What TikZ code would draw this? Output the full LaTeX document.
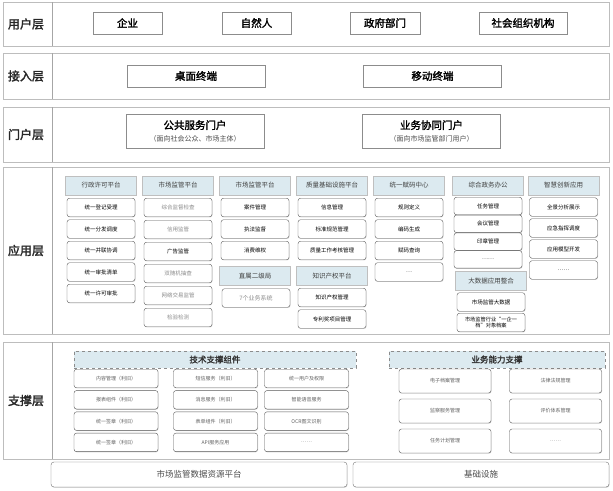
\documentclass[tikz,border=0pt]{standalone}
\usepackage{fontspec}
\setmainfont{Noto Sans CJK SC}[AutoFakeBold=2]
\usetikzlibrary{shadows}
\definecolor{hdrblue}{HTML}{DCEAF0}
\definecolor{layergray}{HTML}{BDBDBD}
\colorlet{faintgray}{black!45}
\tikzset{
  layer/.style={draw=layergray, line width=0.8pt},
  divider/.style={draw=black!35, line width=0.8pt},
  layername/.style={font=\bfseries\fontsize{12}{12}\selectfont, text=black!85},
  userbox/.style={draw=black!45, fill=white, minimum height=22pt, inner sep=0pt,
    font=\bfseries\fontsize{10.5}{11}\selectfont},
  portalbox/.style={draw=black!45, fill=white, minimum width=138pt, minimum height=34pt,
    inner sep=0pt, align=center},
  hdr/.style={draw=black!25, fill=hdrblue, minimum width=71pt, minimum height=19pt,
    inner sep=0pt, font=\fontsize{6.5}{7}\selectfont, text=black!75},
  app/.style={draw=black!65, rounded corners=2.5pt, fill=white, minimum width=68pt,
    minimum height=18.5pt, inner sep=0pt, font=\fontsize{5.5}{6}\selectfont,
    drop shadow={shadow xshift=0.5pt, shadow yshift=-0.7pt, opacity=0.3}},
  faint/.style={text=faintgray},
  grouphdr/.style={draw=black!45, dashed, fill=hdrblue, minimum height=17pt, inner sep=0pt,
    font=\bfseries\fontsize{8.5}{9}\selectfont, text=black!80},
  tech/.style={app, minimum width=84pt, font=\fontsize{5}{6}\selectfont, text=black!62},
  biz/.style={tech, minimum width=92pt, minimum height=24pt},
  base/.style={draw=black!55, rounded corners=3pt, fill=white, minimum height=25pt,
    inner sep=0pt, font=\fontsize{8.5}{9}\selectfont, text=black!70,
    drop shadow={shadow xshift=0.5pt, shadow yshift=-0.8pt, opacity=0.3}}
}
\begin{document}
\begin{tikzpicture}[x=1pt,y=-1pt]
  \useasboundingbox (0,0) rectangle (613,490);
  \fill[white] (0,0) rectangle (613,490);
  % layers
  \foreach \top/\bot/\name/\lbl in {2/46/user/用户层, 53/99/access/接入层,
      107/162/portal/门户层, 167/334/apps/应用层, 342/459/support/支撑层}{
    \draw[layer] (3,\top) rectangle (609,\bot);
    \draw[divider] (52,\top) -- (52,\bot);
    \node[layername] (\name-label) at (26,{(\top+\bot)/2}) {\lbl};
  }
  % user layer
  \node[userbox, minimum width=69pt] (enterprise) at (127.5,23) {企业};
  \node[userbox, minimum width=69pt] (person) at (256.5,23) {自然人};
  \node[userbox, minimum width=70pt] (government) at (385,23) {政府部门};
  \node[userbox, minimum width=88pt] (organization) at (523,23) {社会组织机构};
  % access layer
  \node[userbox, minimum width=138pt] (desktop) at (196,76) {桌面终端};
  \node[userbox, minimum width=138pt] (mobile) at (432.5,76) {移动终端};
  % portal layer
  \node[portalbox] (public) at (195,131)
    {{\bfseries\fontsize{10.5}{12}\selectfont 公共服务门户}\\[0pt]
     {\fontsize{7}{8}\selectfont\color{black!70}（面向社会公众、市场主体）}};
  \node[portalbox] (collab) at (431.5,131)
    {{\bfseries\fontsize{10.5}{12}\selectfont 业务协同门户}\\[0pt]
     {\fontsize{7}{8}\selectfont\color{black!70}（面向市场监管部门用户）}};
  % application layer
  \node[hdr] (permit) at (101,185.5) {行政许可平台};
  \foreach \t [count=\k from 0] in {统一登记受理,统一分发调度,统一并联协调,统一审批清单,统一许可审批}
    \node[app] (permit-\k) at (101,{207.5+21.5*\k}) {\t};
  \node[hdr] (market) at (178,185.5) {市场监管平台};
  \foreach \t/\c [count=\k from 0] in {综合监督检查/faintgray,信用监管/faintgray,广告监管/black,
      双随机抽查/faintgray,网络交易监管/faintgray,检验检测/faintgray}
    \node[app, text=\c] (market-\k) at (178,{207.5+22*\k}) {\t};
  \node[hdr] (enforce) at (255,185.5) {市场监管平台};
  \foreach \t [count=\k from 0] in {案件管理,执法监督,消费维权}
    \node[app] (enforce-\k) at (255,{207.5+21.5*\k}) {\t};
  \node[hdr] (bureau) at (255,276) {直属二级局};
  \node[app, faint, font=\fontsize{6}{7}\selectfont] (bureau-0) at (256,298) {7个业务系统};
  \node[hdr] (quality) at (332,185.5) {质量基础设施平台};
  \foreach \t [count=\k from 0] in {信息管理,标准规范管理,质量工作考核管理}
    \node[app] (quality-\k) at (332,{207.5+21.5*\k}) {\t};
  \node[hdr] (ipr) at (332,276) {知识产权平台};
  \foreach \t [count=\k from 0] in {知识产权管理,专利奖项目管理}
    \node[app] (ipr-\k) at (332,{297.5+21.5*\k}) {\t};
  \node[hdr] (coding) at (409,185.5) {统一赋码中心};
  \foreach \t [count=\k from 0] in {规则定义,编码生成,赋码查询,…}
    \node[app] (coding-\k) at (409,{207.5+21.5*\k}) {\t};
  \node[hdr] (office) at (488,185.5) {综合政务办公};
  \foreach \t [count=\k from 0] in {任务管理,会议管理,印章管理,……}
    \node[app, minimum height=17.5pt] (office-\k) at (488,{206+17.8*\k}) {\t};
  \node[hdr] (bigdata) at (491,281) {大数据应用整合};
  \node[app] (bigdata-0) at (491,302) {市场监管大数据};
  \node[app, align=center, font=\fontsize{5.2}{6}\selectfont] (bigdata-1) at (491,322.5)
    {市场监管行业“一企一\\档”对象档案};
  \node[hdr] (smart) at (563.5,185.5) {智慧创新应用};
  \foreach \t [count=\k from 0] in {全景分析展示,应急指挥调度,应用模型开发,……}
    \node[app] (smart-\k) at (563.5,{207+21*\k}) {\t};
  % support layer
  \node[grouphdr, minimum width=282pt] (techgroup) at (215,359.5) {技术支撑组件};
  \foreach \t [count=\k from 0] in {内容管理（利旧）,报表组件（利旧）,统一签章（利旧）,统一签章（利旧）}
    \node[tech] (techa-\k) at (116,{378.5+21.3*\k}) {\t};
  \foreach \t [count=\k from 0] in {短信服务（利旧）,消息服务（利旧）,表单组件（利旧）,API服务应用}
    \node[tech] (techb-\k) at (215.5,{378.5+21.3*\k}) {\t};
  \foreach \t [count=\k from 0] in {统一用户及权限,智能语音服务,OCR图文识别,……}
    \node[tech] (techc-\k) at (306.5,{378.5+21.3*\k}) {\t};
  \node[grouphdr, minimum width=216pt] (bizgroup) at (497,359.5) {业务能力支撑};
  \foreach \ta/\tb [count=\k from 0] in {电子档案管理/法律法规管理,监察服务管理/评价体系管理,任务计划管理/……}{
    \node[biz] (biza-\k) at (445,{381+30*\k}) {\ta};
    \node[biz] (bizb-\k) at (555.5,{381+30*\k}) {\tb};
  }
  % base
  \node[base, minimum width=296pt] (dataplat) at (199,474.5) {市场监管数据资源平台};
  \node[base, minimum width=256pt] (infra) at (481,474.5) {基础设施};
\end{tikzpicture}
\end{document}
